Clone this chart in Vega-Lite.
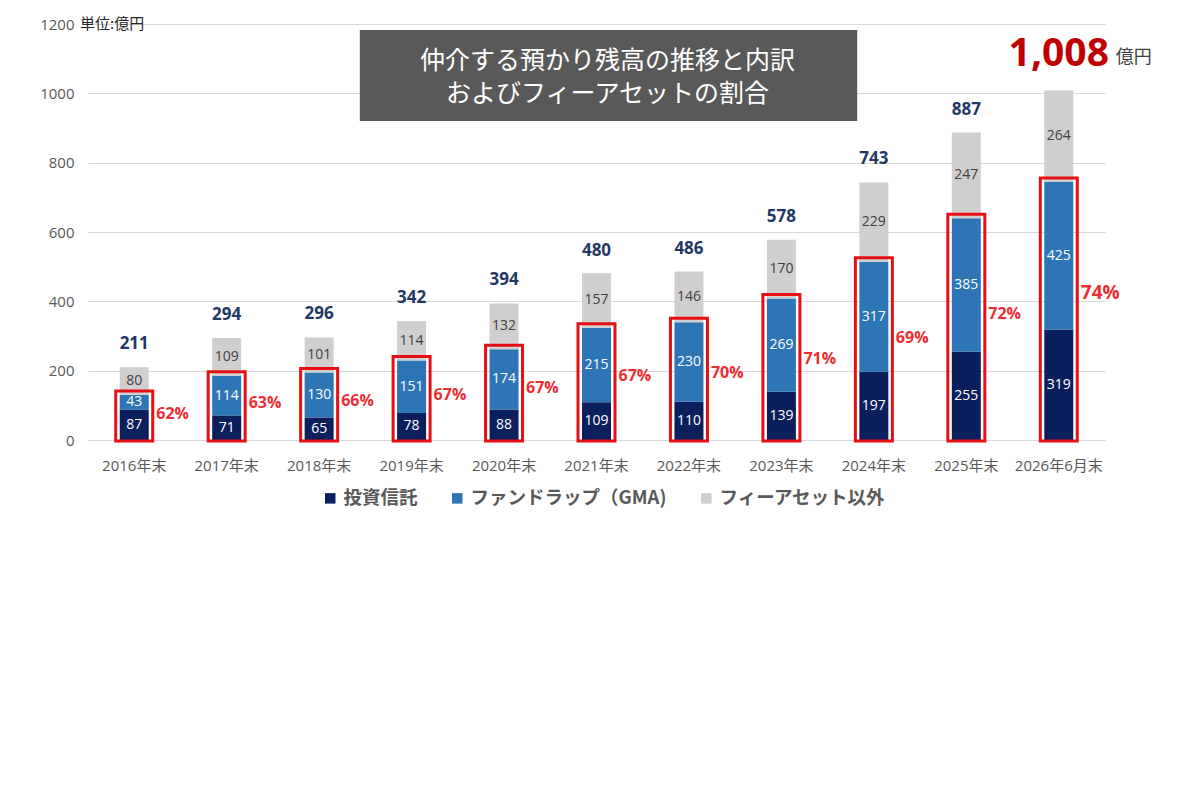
{
  "$schema": "https://vega.github.io/schema/vega-lite/v6.json",
  "width": 1017,
  "height": 416,
  "autosize": "none",
  "padding": {"left": 88, "top": 24, "right": 95, "bottom": 360},
  "background": "white",
  "config": {
    "font": "Open Sans, Noto Sans CJK JP",
    "view": {"stroke": null},
    "axis": {"labelFont": "Open Sans, Noto Sans CJK JP"}
  },
  "datasets": {
    "seg": [
      {"cat": "2016年末", "series": "投資信託", "value": 87},
      {"cat": "2016年末", "series": "ファンドラップ（GMA)", "value": 43},
      {"cat": "2016年末", "series": "フィーアセット以外", "value": 80},
      {"cat": "2017年末", "series": "投資信託", "value": 71},
      {"cat": "2017年末", "series": "ファンドラップ（GMA)", "value": 114},
      {"cat": "2017年末", "series": "フィーアセット以外", "value": 109},
      {"cat": "2018年末", "series": "投資信託", "value": 65},
      {"cat": "2018年末", "series": "ファンドラップ（GMA)", "value": 130},
      {"cat": "2018年末", "series": "フィーアセット以外", "value": 101},
      {"cat": "2019年末", "series": "投資信託", "value": 78},
      {"cat": "2019年末", "series": "ファンドラップ（GMA)", "value": 151},
      {"cat": "2019年末", "series": "フィーアセット以外", "value": 114},
      {"cat": "2020年末", "series": "投資信託", "value": 88},
      {"cat": "2020年末", "series": "ファンドラップ（GMA)", "value": 174},
      {"cat": "2020年末", "series": "フィーアセット以外", "value": 132},
      {"cat": "2021年末", "series": "投資信託", "value": 109},
      {"cat": "2021年末", "series": "ファンドラップ（GMA)", "value": 215},
      {"cat": "2021年末", "series": "フィーアセット以外", "value": 157},
      {"cat": "2022年末", "series": "投資信託", "value": 110},
      {"cat": "2022年末", "series": "ファンドラップ（GMA)", "value": 230},
      {"cat": "2022年末", "series": "フィーアセット以外", "value": 146},
      {"cat": "2023年末", "series": "投資信託", "value": 139},
      {"cat": "2023年末", "series": "ファンドラップ（GMA)", "value": 269},
      {"cat": "2023年末", "series": "フィーアセット以外", "value": 170},
      {"cat": "2024年末", "series": "投資信託", "value": 197},
      {"cat": "2024年末", "series": "ファンドラップ（GMA)", "value": 317},
      {"cat": "2024年末", "series": "フィーアセット以外", "value": 229},
      {"cat": "2025年末", "series": "投資信託", "value": 255},
      {"cat": "2025年末", "series": "ファンドラップ（GMA)", "value": 385},
      {"cat": "2025年末", "series": "フィーアセット以外", "value": 247},
      {"cat": "2026年6月末", "series": "投資信託", "value": 319},
      {"cat": "2026年6月末", "series": "ファンドラップ（GMA)", "value": 425},
      {"cat": "2026年6月末", "series": "フィーアセット以外", "value": 264}
    ],
    "tot": [
      {"cat": "2016年末", "total": 211, "pct": "62%"},
      {"cat": "2017年末", "total": 294, "pct": "63%"},
      {"cat": "2018年末", "total": 296, "pct": "66%"},
      {"cat": "2019年末", "total": 342, "pct": "67%"},
      {"cat": "2020年末", "total": 394, "pct": "67%"},
      {"cat": "2021年末", "total": 480, "pct": "67%"},
      {"cat": "2022年末", "total": 486, "pct": "70%"},
      {"cat": "2023年末", "total": 578, "pct": "71%"},
      {"cat": "2024年末", "total": 743, "pct": "69%"},
      {"cat": "2025年末", "total": 887, "pct": "72%"},
      {"cat": "2026年6月末", "total": 1008, "pct": "74%"}
    ]
  },
  "encoding": {
    "x": {
      "field": "cat",
      "type": "nominal",
      "sort": null,
      "scale": {"paddingInner": 0, "paddingOuter": 0},
      "axis": {
        "title": null,
        "labelAngle": 0,
        "labelColor": "#595959",
        "labelFontSize": 15,
        "labelPadding": 18,
        "ticks": false,
        "domain": false
      }
    }
  },
  "layer": [
    {
      "data": {"name": "seg"},
      "transform": [
        {"calculate": "indexof(['投資信託','ファンドラップ（GMA)','フィーアセット以外'], datum.series)", "as": "k"}
      ],
      "mark": {"type": "bar", "size": 29},
      "encoding": {
        "y": {
          "field": "value",
          "type": "quantitative",
          "stack": "zero",
          "scale": {"domain": [0, 1200], "nice": false},
          "axis": {
            "title": null,
            "values": [0, 200, 400, 600, 800, 1000, 1200],
            "format": "d",
            "labelColor": "#595959",
            "labelFontSize": 15,
            "labelPadding": 14,
            "ticks": false,
            "domain": false,
            "gridColor": "#d9d9d9",
            "gridWidth": 1
          }
        },
        "order": {"field": "k", "type": "quantitative", "sort": "ascending"},
        "color": {
          "field": "series",
          "type": "nominal",
          "scale": {
            "domain": ["投資信託", "ファンドラップ（GMA)", "フィーアセット以外"],
            "range": ["#0a1f5c", "#2e75b6", "#d0cece"]
          },
          "legend": {
            "title": null,
            "orient": "none",
            "legendX": 233,
            "legendY": 465,
            "padding": 0,
            "direction": "horizontal",
            "symbolType": "square",
            "symbolSize": 110,
            "symbolStrokeWidth": 0,
            "labelFont": "Noto Sans CJK JP",
            "labelFontSize": 18.5,
            "labelFontWeight": "bold",
            "labelColor": "#595959",
            "labelLimit": 400,
            "labelOffset": 4,
            "columnPadding": 30
          }
        }
      }
    },
    {
      "data": {"name": "seg"},
      "transform": [
        {"calculate": "indexof(['投資信託','ファンドラップ（GMA)','フィーアセット以外'], datum.series)", "as": "k"},
        {"stack": "value", "groupby": ["cat"], "sort": [{"field": "k", "order": "ascending"}], "as": ["v0", "v1"]},
        {"calculate": "(datum.v0 + datum.v1) / 2", "as": "mid"}
      ],
      "mark": {"type": "text", "fontSize": 14, "baseline": "middle", "align": "center"},
      "encoding": {
        "y": {"field": "mid", "type": "quantitative"},
        "text": {"field": "value", "type": "quantitative"},
        "color": {
          "condition": {"test": "datum.series === 'フィーアセット以外'", "value": "#404040"},
          "value": "#ffffff"
        }
      }
    },
    {
      "data": {"name": "seg"},
      "transform": [
        {"filter": "datum.series !== 'フィーアセット以外'"},
        {"aggregate": [{"op": "sum", "field": "value", "as": "fee"}], "groupby": ["cat"]},
        {"lookup": "cat", "from": {"data": {"name": "tot"}, "key": "cat", "fields": ["pct"]}},
        {"calculate": "datum.fee * 0.57", "as": "pctPos"}
      ],
      "layer": [
        {
          "mark": {"type": "bar", "filled": false, "color": "#e60f14", "strokeWidth": 3, "size": 37, "yOffset": -4, "y2Offset": 1},
          "encoding": {
            "y": {"field": "fee", "type": "quantitative"},
            "y2": {"datum": 0}
          }
        },
        {
          "mark": {"type": "text", "align": "left", "baseline": "middle", "dx": 22, "fontWeight": "bold", "color": "#ec2d32"},
          "encoding": {
            "y": {"field": "pctPos", "type": "quantitative"},
            "text": {"field": "pct", "type": "nominal"},
            "size": {
              "condition": {"test": "datum.cat === '2026年6月末'", "value": 19},
              "value": 16
            }
          }
        }
      ]
    },
    {
      "data": {"name": "tot"},
      "transform": [{"filter": "datum.cat !== '2026年6月末'"}],
      "mark": {"type": "text", "fontSize": 17, "fontWeight": "bold", "color": "#1f3864", "baseline": "middle", "dy": -23},
      "encoding": {
        "y": {"field": "total", "type": "quantitative"},
        "text": {"field": "total", "type": "quantitative"}
      }
    },
    {
      "data": {"name": "tot"},
      "transform": [{"filter": "datum.cat === '2026年6月末'"}],
      "layer": [
        {
          "mark": {"type": "text", "fontSize": 39, "fontWeight": "bold", "color": "#c00000", "baseline": "middle", "dy": -37},
          "encoding": {
            "y": {"field": "total", "type": "quantitative"},
            "text": {"field": "total", "type": "quantitative", "format": ","}
          }
        },
        {
          "mark": {"type": "text", "font": "Noto Sans CJK JP", "fontSize": 18, "color": "#404040", "align": "left", "baseline": "middle", "dx": 57, "dy": -33},
          "encoding": {
            "y": {"field": "total", "type": "quantitative"},
            "text": {"value": "億円"}
          }
        }
      ]
    },
    {
      "data": {"values": [{}]},
      "mark": {"type": "rect", "color": "#595959"},
      "encoding": {
        "x": {"datum": "2018年末", "bandPosition": 0.94},
        "x2": {"datum": "2024年末", "bandPosition": 0.32},
        "y": {"datum": 1183},
        "y2": {"datum": 920}
      }
    },
    {
      "data": {"values": [{}]},
      "mark": {"type": "text", "font": "Noto Sans CJK JP", "fontSize": 25, "color": "#ffffff", "align": "center", "baseline": "middle", "lineHeight": 33},
      "encoding": {
        "x": {"datum": "2021年末", "bandPosition": 0.62},
        "y": {"datum": 1092},
        "text": {"value": ["仲介する預かり残高の推移と内訳", "およびフィーアセットの割合"]}
      }
    },
    {
      "data": {"values": [{}]},
      "mark": {"type": "text", "font": "Noto Sans CJK JP", "fontSize": 15, "color": "#262626", "align": "left", "baseline": "middle", "dx": -8},
      "encoding": {
        "x": {"datum": "2016年末", "bandPosition": 0},
        "y": {"datum": 1200},
        "text": {"value": "単位:億円"}
      }
    }
  ]
}
